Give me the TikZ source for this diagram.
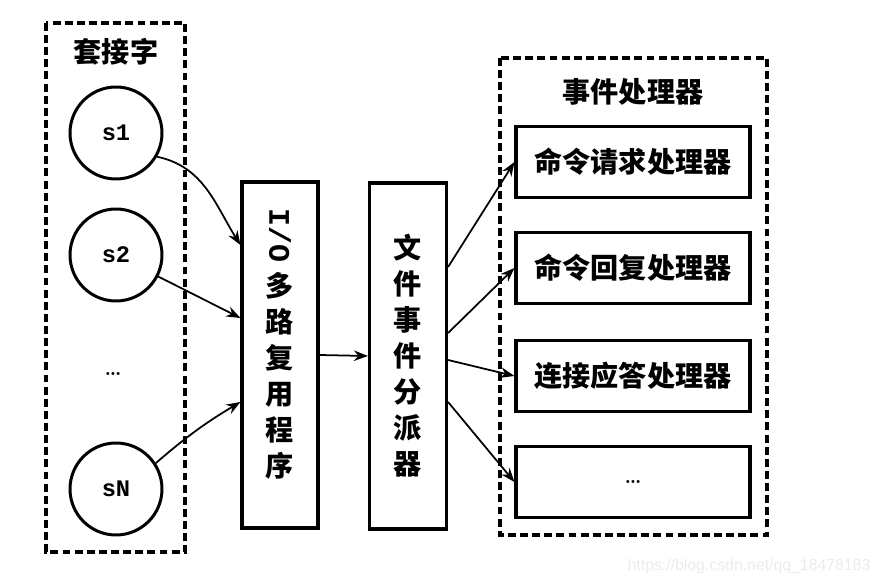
\documentclass[tikz,border=0pt]{standalone}
\usepackage{fontspec}
\newfontfamily\cjk{Noto Sans CJK SC}
\newfontfamily\monof{Liberation Mono}
\setsansfont{Liberation Sans}
\usetikzlibrary{arrows.meta}

\tikzset{
  groupbox/.style={draw, line width=1.9pt, dash pattern=on 4.5pt off 2.4pt},
  sock/.style={draw, circle, line width=1.7pt, minimum size=1.84cm, inner sep=0pt,
    font=\monof\bfseries\fontsize{13.5}{15}\selectfont},
  colbox/.style={draw, line width=1.8pt, minimum width=1.52cm, minimum height=6.92cm,
    inner sep=0pt, align=center, font=\cjk\bfseries\fontsize{16}{20.5}\selectfont},
  coltext/.style={inner sep=0pt, align=center, font=\cjk\bfseries\fontsize{16}{20.5}\selectfont},
  handler/.style={draw, line width=1.8pt, minimum width=4.68cm, minimum height=1.42cm,
    inner sep=0pt, font=\cjk\bfseries\fontsize{16}{18}\selectfont},
  grouptitle/.style={font=\cjk\bfseries\fontsize{16}{18}\selectfont},
  link/.style={-{Stealth[length=8pt,width=6pt]}, line width=1pt},
}

\begin{document}
\begin{tikzpicture}[x=0.02cm, y=-0.02cm]
  \useasboundingbox (0,0) rectangle (880,587);

  % socket group
  \draw[groupbox] (46,23) rectangle (185,552);
  \node[grouptitle] (socktitle) at (116,52) {套接字};
  \node[sock] (s1) at (116,133) {s1};
  \node[sock] (s2) at (116,255) {s2};
  \node[font=\bfseries\fontsize{12}{14}\selectfont] (sdots) at (113,374) {\ldots};
  \node[sock] (sN) at (116,489) {sN};

  % multiplexer and dispatcher
  \node[colbox] (io) at (280,355) {};
  \node[coltext] (iotext) at (280,344)
    {{\monof\fontsize{17}{18}\selectfont\rotatebox{-90}{I/O}}\\[5pt]多\\路\\复\\用\\程\\序};
  \node[colbox, minimum width=1.54cm] (disp) at (408,356) {文\\件\\事\\件\\分\\派\\器};

  % handler group
  \draw[groupbox] (500,58) rectangle (767,535);
  \node[grouptitle] (handtitle) at (633,92) {事件处理器};
  \node[handler] (h1) at (633,162) {命令请求处理器};
  \node[handler] (h2) at (633,268) {命令回复处理器};
  \node[handler] (h3) at (633,376) {连接应答处理器};
  \node[handler, font=\bfseries\fontsize{12}{14}\selectfont] (h4) at (633,482) {\ldots};

  % connectors
  \draw[link] (s1.-30) to[out=-12, in=122] (io.west |- 0,245);
  \draw[link] (s2.-27) -- (io.west |- 0,318);
  \draw[link] (sN.33) to[bend left=5] (io.west |- 0,402);
  \draw[link] (io.east) -- (disp.west);
  \draw[link] (disp.east |- 0,267) -- (h1.west);
  \draw[link] (disp.east |- 0,333) -- (h2.west);
  \draw[link] (disp.east |- 0,360) -- (h3.west);
  \draw[link] (disp.east |- 0,402) -- (h4.west);

  \node[text=black!8, font=\sffamily\fontsize{9}{10}\selectfont] (mark) at (749,566)
    {https://blog.csdn.net/qq\_18478183};
\end{tikzpicture}
\end{document}
